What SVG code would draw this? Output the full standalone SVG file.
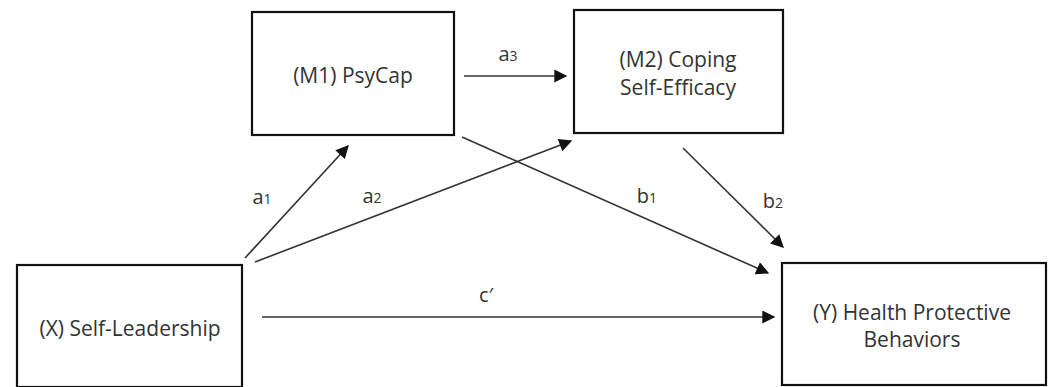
<svg xmlns="http://www.w3.org/2000/svg" width="1048" height="387" viewBox="0 0 1048 387">
<style>
.box{fill:#fff;stroke:#111;stroke-width:2.2}
.t{font-family:"Open Sans","Liberation Sans",Arial,sans-serif;font-size:21px;fill:#333;text-anchor:middle}
.l{font-family:"Open Sans","Liberation Sans",Arial,sans-serif;font-size:20px;fill:#333;text-anchor:middle}
.s{font-size:14px}
.c{stroke:#333;stroke-width:1.6;fill:none;marker-end:url(#ah)}
</style>
<defs>
<marker id="ah" viewBox="0 0 10 10" refX="9" refY="5" markerWidth="14" markerHeight="13" markerUnits="userSpaceOnUse" orient="auto">
<path d="M0,0 L10,5 L0,10 z" fill="#111"/>
</marker>
</defs>
<g id="connectors">
<line class="c" x1="464" y1="76" x2="566" y2="76"/>
<line class="c" x1="245" y1="258" x2="348" y2="146"/>
<line class="c" x1="255" y1="262" x2="571" y2="141"/>
<line class="c" x1="462" y1="137" x2="768" y2="273"/>
<line class="c" x1="683" y1="148" x2="783" y2="247"/>
<line class="c" x1="262" y1="317" x2="774" y2="317"/>
<text class="l" x="508" y="61">a<tspan class="s">3</tspan></text>
<text class="l" x="262" y="204">a<tspan class="s">1</tspan></text>
<text class="l" x="372" y="203">a<tspan class="s">2</tspan></text>
<text class="l" x="647" y="203">b<tspan class="s">1</tspan></text>
<text class="l" x="773" y="208">b<tspan class="s">2</tspan></text>
<text class="l" x="486" y="302">c′</text>
</g>
<g id="m1">
<rect class="box" x="252" y="12" width="202" height="123"/>
<text class="t" x="353" y="83">(M1) PsyCap</text>
</g>
<g id="m2">
<rect class="box" x="574" y="10" width="209" height="123"/>
<text class="t" x="678" y="67">(M2) Coping</text>
<text class="t" x="678" y="95">Self-Efficacy</text>
</g>
<g id="x">
<rect class="box" x="17" y="265" width="225" height="122"/>
<text class="t" x="130" y="336">(X) Self-Leadership</text>
</g>
<g id="y">
<rect class="box" x="782" y="263" width="264" height="122"/>
<text class="t" x="912" y="320">(Y) Health Protective</text>
<text class="t" x="912" y="347">Behaviors</text>
</g>
</svg>
